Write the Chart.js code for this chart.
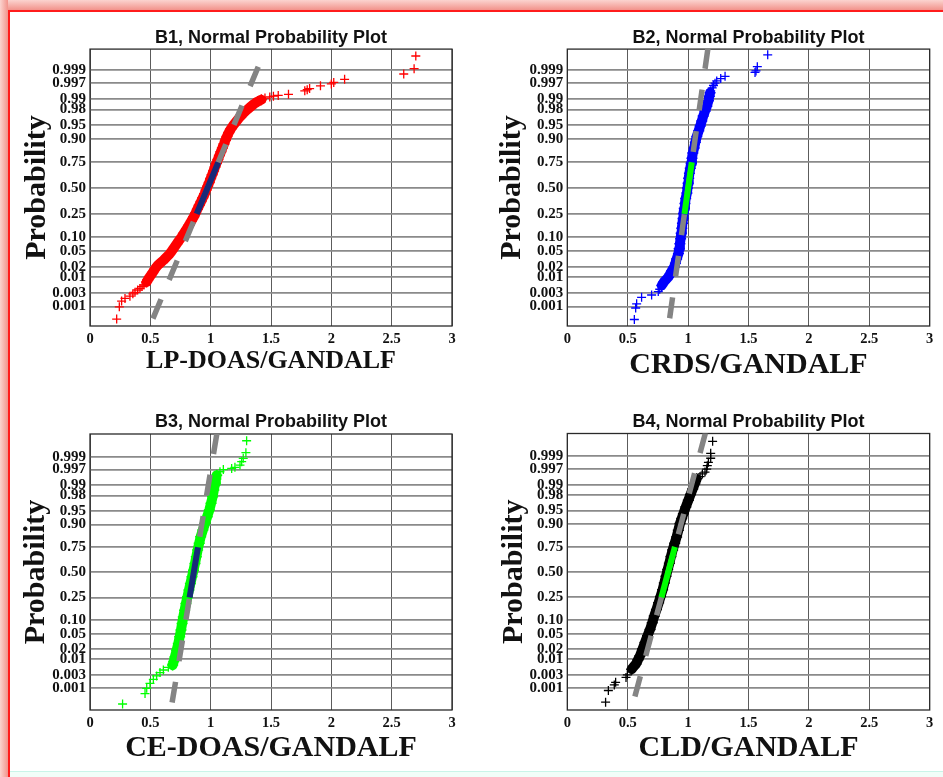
<!DOCTYPE html>
<html>
<head>
<meta charset="utf-8">
<script src="https://cdn.jsdelivr.net/npm/chart.js@4/dist/chart.umd.min.js"></script>
<style>
  html, body { margin: 0; padding: 0; background: #fff; }
  body { width: 943px; height: 777px; position: relative; overflow: hidden; }
  .glow-top { position: absolute; left: 0; top: 0; width: 943px; height: 10px; background: linear-gradient(to bottom, #fbd4cf, #f2938b); }
  .glow-left { position: absolute; left: 0; top: 0; width: 8px; height: 777px; background: linear-gradient(to right, #fbd4cf, #f2938b); }
  .rule-top { position: absolute; left: 8px; top: 10px; width: 935px; height: 2px; background: #ff1c1c; }
  .rule-left { position: absolute; left: 8px; top: 10px; width: 2px; height: 767px; background: #ff1c1c; }
  .foot { position: absolute; left: 10px; top: 771px; width: 933px; height: 6px; background: #f1fdf8; border-top: 1px solid #c9f4e8; }
  canvas { position: absolute; }
</style>
</head>
<body>
<div class="glow-top"></div>
<div class="glow-left"></div>
<div class="rule-top"></div>
<div class="rule-left"></div>
<div class="foot"></div>
<canvas id="b1" width="460" height="375" style="left:10px;top:12px"></canvas>
<canvas id="b2" width="463" height="375" style="left:480px;top:12px"></canvas>
<canvas id="b3" width="460" height="385" style="left:10px;top:392px"></canvas>
<canvas id="b4" width="463" height="385" style="left:480px;top:392px"></canvas>
<script>
// Probability axis: ticks are probabilities, plotted at their normal quantiles
const PROB_TICKS = [0.001, 0.003, 0.01, 0.02, 0.05, 0.10, 0.25, 0.50, 0.75, 0.90, 0.95, 0.98, 0.99, 0.997, 0.999];
const PROB_LABELS = ['0.001', '0.003', '0.01', '0.02', '0.05', '0.10', '0.25', '0.50', '0.75', '0.90', '0.95', '0.98', '0.99', '0.997', '0.999'];
const RATIO_TICKS = [0, 0.5, 1, 1.5, 2, 2.5, 3];
const RATIO_LABELS = ['0', '0.5', '1', '1.5', '2', '2.5', '3'];
const QUARTILES = [0.25, 0.75];

const TITLES = ['B1, Normal Probability Plot', 'B2, Normal Probability Plot', 'B3, Normal Probability Plot', 'B4, Normal Probability Plot'];
const X_TITLES = ['LP-DOAS/GANDALF', 'CRDS/GANDALF', 'CE-DOAS/GANDALF', 'CLD/GANDALF'];

// Sorted ratios and their normal quantiles (dense body of each sample)
const b1BodyRatio = [0.469, 0.478, 0.497, 0.52, 0.54, 0.56, 0.585, 0.61, 0.635, 0.66, 0.68, 0.70, 0.72, 0.74, 0.76, 0.78, 0.80, 0.82, 0.84, 0.86, 0.875, 0.89, 0.905, 0.92, 0.935, 0.95, 0.962, 0.975, 0.988, 1.0, 1.012, 1.024, 1.036, 1.048, 1.06, 1.072, 1.085, 1.097, 1.11, 1.122, 1.135, 1.15, 1.168, 1.19, 1.215, 1.24, 1.27, 1.30, 1.33, 1.36, 1.39, 1.42];
const b1BodyQuantile = [-2.45, -2.40, -2.31, -2.20, -2.10, -2.02, -1.95, -1.88, -1.80, -1.72, -1.63, -1.54, -1.45, -1.36, -1.27, -1.17, -1.07, -0.97, -0.86, -0.75, -0.65, -0.55, -0.45, -0.35, -0.25, -0.15, -0.05, 0.05, 0.15, 0.25, 0.35, 0.45, 0.55, 0.65, 0.75, 0.85, 0.95, 1.05, 1.15, 1.25, 1.35, 1.45, 1.55, 1.65, 1.75, 1.85, 1.95, 2.04, 2.12, 2.20, 2.26, 2.31];
const b1TailRatio = [0.221, 0.243, 0.262, 0.29, 0.331, 0.355, 0.373, 0.395, 0.414, 0.432, 0.447, 1.45, 1.49, 1.52, 1.56, 1.645, 1.78, 1.80, 1.82, 1.91, 2.0, 2.02, 2.11, 2.60, 2.686, 2.70];
const b1TailQuantile = [-3.42, -3.10, -2.95, -2.88, -2.82, -2.76, -2.72, -2.66, -2.62, -2.57, -2.53, 2.35, 2.38, 2.40, 2.42, 2.45, 2.54, 2.57, 2.60, 2.67, 2.72, 2.76, 2.84, 2.98, 3.12, 3.45];

const b2BodyRatio = [0.782, 0.80, 0.82, 0.837, 0.85, 0.865, 0.884, 0.895, 0.905, 0.92, 0.926, 0.932, 0.938, 0.943, 0.948, 0.953, 0.958, 0.962, 0.968, 0.974, 0.98, 0.99, 0.995, 1.0, 1.005, 1.011, 1.018, 1.025, 1.032, 1.039, 1.05, 1.06, 1.072, 1.088, 1.10, 1.113, 1.125, 1.14, 1.155, 1.168, 1.176, 1.182];
const b2BodyQuantile = [-2.54, -2.45, -2.38, -2.32, -2.25, -2.16, -2.06, -1.96, -1.85, -1.71, -1.58, -1.45, -1.32, -1.18, -1.05, -0.92, -0.79, -0.66, -0.53, -0.40, -0.27, -0.13, 0.0, 0.13, 0.26, 0.39, 0.52, 0.65, 0.78, 0.92, 1.05, 1.20, 1.35, 1.50, 1.62, 1.75, 1.88, 2.01, 2.14, 2.28, 2.40, 2.49];
const b2TailRatio = [0.555, 0.566, 0.574, 0.615, 0.698, 0.753, 0.765, 1.187, 1.20, 1.21, 1.223, 1.237, 1.27, 1.306, 1.554, 1.562, 1.573, 1.659];
const b2TailQuantile = [-3.43, -3.13, -3.02, -2.85, -2.79, -2.70, -2.64, 2.54, 2.62, 2.68, 2.74, 2.80, 2.86, 2.92, 3.02, 3.06, 3.17, 3.48];

const b3BodyRatio = [0.685, 0.694, 0.704, 0.718, 0.732, 0.743, 0.754, 0.763, 0.773, 0.784, 0.795, 0.808, 0.82, 0.832, 0.845, 0.858, 0.87, 0.881, 0.892, 0.905, 0.917, 0.935, 0.953, 0.971, 0.989, 1.003, 1.016, 1.026, 1.036, 1.043, 1.05];
const b3BodyQuantile = [-2.48, -2.38, -2.26, -2.08, -1.90, -1.72, -1.54, -1.37, -1.19, -1.01, -0.83, -0.65, -0.47, -0.30, -0.12, 0.06, 0.24, 0.42, 0.60, 0.78, 0.95, 1.13, 1.31, 1.49, 1.67, 1.85, 2.02, 2.20, 2.38, 2.50, 2.60];
const b3TailRatio = [0.27, 0.456, 0.47, 0.497, 0.525, 0.552, 0.58, 0.608, 0.649, 1.077, 1.105, 1.174, 1.201, 1.243, 1.257, 1.27, 1.292, 1.298];
const b3TailQuantile = [-3.52, -3.24, -3.10, -2.97, -2.86, -2.77, -2.68, -2.61, -2.54, 2.69, 2.75, 2.78, 2.81, 2.87, 2.96, 3.05, 3.20, 3.52];

const b4BodyRatio = [0.533, 0.55, 0.569, 0.585, 0.602, 0.623, 0.643, 0.664, 0.685, 0.703, 0.72, 0.738, 0.756, 0.772, 0.789, 0.803, 0.817, 0.831, 0.845, 0.858, 0.872, 0.889, 0.905, 0.919, 0.933, 0.947, 0.961, 0.981, 1.002, 1.02, 1.038, 1.055, 1.071];
const b4BodyQuantile = [-2.59, -2.52, -2.45, -2.34, -2.23, -2.05, -1.88, -1.70, -1.53, -1.35, -1.17, -1.00, -0.82, -0.65, -0.47, -0.29, -0.11, 0.07, 0.24, 0.42, 0.59, 0.77, 0.94, 1.12, 1.30, 1.43, 1.56, 1.74, 1.92, 2.07, 2.22, 2.36, 2.49];
const b4TailRatio = [0.317, 0.34, 0.389, 0.40, 0.486, 0.497, 1.099, 1.118, 1.14, 1.154, 1.159, 1.168, 1.187, 1.187, 1.203];
const b4TailQuantile = [-3.47, -3.16, -3.01, -2.94, -2.81, -2.74, 2.55, 2.62, 2.67, 2.75, 2.84, 2.93, 3.04, 3.17, 3.49];

// Fitted normal reference line per panel: ratio = mean + sd * quantile
const FIT_MEAN = [0.9735, 1.0, 0.86, 0.835];
const FIT_SD = [0.1327, 0.045, 0.0516, 0.083];
const FIT_TOP = [3.17, 3.66, 3.72, 3.72];
const FIT_BOTTOM = [-3.9, -3.9, -3.9, -3.9];

const MARK_COLORS = ['#ff0000', '#0000ff', '#00ff00', '#000000'];
const SEGMENT_COLORS = ['#182a78', '#00ff00', '#182a78', '#00ff00'];

// Inverse of the standard normal CDF (Acklam)
function probit(p) {
  const a = [-3.969683028665376e+01, 2.209460984245205e+02, -2.759285104469687e+02, 1.383577518672690e+02, -3.066479806614716e+01, 2.506628277459239e+00];
  const b = [-5.447609879822406e+01, 1.615858368580409e+02, -1.556989798598866e+02, 6.680131188771972e+01, -1.328068155288572e+01];
  const c = [-7.784894002430293e-03, -3.223964580411365e-01, -2.400758277161838e+00, -2.549732539343734e+00, 4.374664141464968e+00, 2.938163982698783e+00];
  const d = [7.784695709041462e-03, 3.224671290700398e-01, 2.445134137142996e+00, 3.754408661907416e+00];
  const pl = 0.02425, ph = 1 - pl;
  let q, r;
  if (p < pl) {
    q = Math.sqrt(-2 * Math.log(p));
    return (((((c[0]*q+c[1])*q+c[2])*q+c[3])*q+c[4])*q+c[5]) / ((((d[0]*q+d[1])*q+d[2])*q+d[3])*q+1);
  }
  if (p <= ph) {
    q = p - 0.5; r = q * q;
    return (((((a[0]*r+a[1])*r+a[2])*r+a[3])*r+a[4])*r+a[5])*q / (((((b[0]*r+b[1])*r+b[2])*r+b[3])*r+b[4])*r+1);
  }
  q = Math.sqrt(-2 * Math.log(1 - p));
  return -(((((c[0]*q+c[1])*q+c[2])*q+c[3])*q+c[4])*q+c[5]) / ((((d[0]*q+d[1])*q+d[2])*q+d[3])*q+1);
}

const SERIF = "'Liberation Serif', 'Times New Roman', serif";
const SANS = "'Liberation Sans', Arial, sans-serif";

// Dark box around the plotting area
const frame = {
  id: 'frame',
  beforeDatasetsDraw(chart) {
    const { ctx, chartArea: a } = chart;
    ctx.save();
    ctx.strokeStyle = '#2a2a2a';
    ctx.lineWidth = 1.3;
    ctx.strokeRect(a.left, a.top, a.right - a.left, a.bottom - a.top);
    ctx.restore();
  }
};

function pairs(xs, zs) { return xs.map((x, i) => ({ x: x, y: zs[i] })); }

function buildPanel(id, k, body, tail, lay) {
  const H = document.getElementById(id).height;
  const mean = FIT_MEAN[k], sd = FIT_SD[k];
  const fitLine = [FIT_TOP[k], FIT_BOTTOM[k]].map(z => ({ x: mean + sd * z, y: z }));
  const segment = QUARTILES.map(p => ({ x: mean + sd * probit(p), y: probit(p) }));
  const color = MARK_COLORS[k];
  new Chart(document.getElementById(id), {
    type: 'scatter',
    data: {
      datasets: [
        { data: segment, showLine: true, borderColor: SEGMENT_COLORS[k], borderWidth: 6, pointRadius: 0, borderCapStyle: 'butt', clip: 0 },
        { data: fitLine, showLine: true, borderColor: '#848484', borderWidth: 5.5, borderDash: [21, 21], borderCapStyle: 'butt', pointRadius: 0, clip: 0 },
        { data: pairs(body[0], body[1]), showLine: true, borderColor: color, borderWidth: 10, borderJoinStyle: 'round', borderCapStyle: 'round',
          pointStyle: 'cross', pointRadius: 5.5, pointBorderWidth: 1.5, pointBorderColor: color, pointBackgroundColor: color },
        { data: pairs(tail[0], tail[1]), showLine: false,
          pointStyle: 'cross', pointRadius: 4.5, pointBorderWidth: 1.3, pointBorderColor: color, pointBackgroundColor: color }
      ]
    },
    options: {
      responsive: false,
      animation: false,
      devicePixelRatio: 1,
      events: [],
      layout: { padding: { left: 0, right: lay.padRight, top: 0, bottom: 0 } },
      plugins: {
        legend: { display: false },
        tooltip: { enabled: false },
        title: {
          display: true, text: TITLES[k], fullSize: false, color: '#111',
          font: { family: SANS, weight: 'bold', size: 18, lineHeight: 1.2 },
          padding: { top: lay.titleTop, bottom: lay.titleBottom }
        }
      },
      scales: {
        x: {
          type: 'linear', min: 0, max: 3,
          afterBuildTicks: s => { s.ticks = RATIO_TICKS.map(v => ({ value: v })); },
          afterFit: s => { s.height = H - lay.bottom; },
          grid: { color: '#5c5c5c', lineWidth: 1, drawTicks: false },
          border: { display: false },
          ticks: { autoSkip: false, maxRotation: 0, padding: lay.xTickPad, color: '#111',
                   font: { family: SERIF, weight: 'bold', size: 14.5 },
                   callback: (v, i) => RATIO_LABELS[i] },
          title: { display: true, text: X_TITLES[k], color: '#111',
                   font: { family: SERIF, weight: 'bold', size: lay.xTitleSize, lineHeight: 1 },
                   padding: { top: 0, bottom: lay.xTitlePad } }
        },
        y: {
          type: 'linear', min: lay.yMin, max: lay.yMax,
          afterBuildTicks: s => { s.ticks = PROB_TICKS.map(p => ({ value: probit(p) })); },
          afterFit: s => { s.width = lay.left; },
          grid: { color: '#8a8a8a', lineWidth: 1.8, drawTicks: false },
          border: { display: false },
          ticks: { autoSkip: false, padding: 4, color: '#111',
                   font: { family: SERIF, weight: 'bold', size: 15 },
                   callback: (v, i) => PROB_LABELS[i] },
          title: { display: true, text: 'Probability', color: '#111',
                   font: { family: SERIF, weight: 'bold', size: 30, lineHeight: 1 },
                   padding: { top: lay.yTitlePad, bottom: 0 } }
        }
      }
    },
    plugins: [frame]
  });
}

buildPanel('b1', 0, [b1BodyRatio, b1BodyQuantile], [b1TailRatio, b1TailQuantile],
  { left: 80, padRight: 18, bottom: 314, titleTop: 15.5, titleBottom: 0, xTickPad: 5, xTitleSize: 26, xTitlePad: 12.3, yTitlePad: 12.5, yMin: -3.60, yMax: 3.63 });
buildPanel('b2', 1, [b2BodyRatio, b2BodyQuantile], [b2TailRatio, b2TailQuantile],
  { left: 87.3, padRight: 13.3, bottom: 314, titleTop: 15.5, titleBottom: 0, xTickPad: 5, xTitleSize: 30, xTitlePad: 7, yTitlePad: 17.5, yMin: -3.60, yMax: 3.63 });
buildPanel('b3', 2, [b3BodyRatio, b3BodyQuantile], [b3TailRatio, b3TailQuantile],
  { left: 80, padRight: 18, bottom: 318, titleTop: 19.5, titleBottom: 0.9, xTickPad: 5, xTitleSize: 30, xTitlePad: 13.7, yTitlePad: 11, yMin: -3.68, yMax: 3.70 });
buildPanel('b4', 3, [b4BodyRatio, b4BodyQuantile], [b4TailRatio, b4TailQuantile],
  { left: 87.3, padRight: 13.3, bottom: 318, titleTop: 19.5, titleBottom: 0.4, xTickPad: 5, xTitleSize: 30, xTitlePad: 13.7, yTitlePad: 19, yMin: -3.68, yMax: 3.70 });
</script>
</body>
</html>
